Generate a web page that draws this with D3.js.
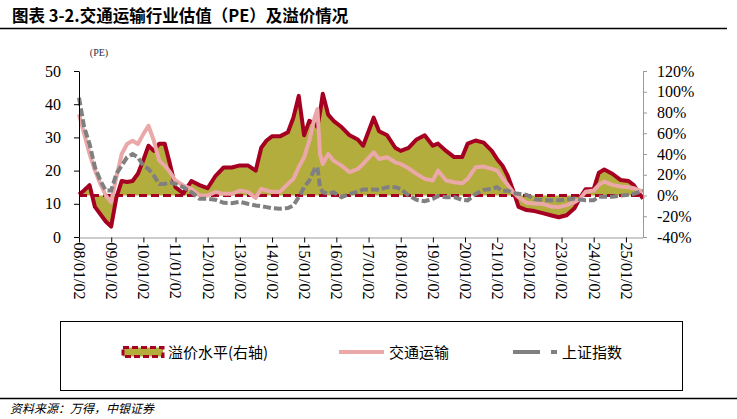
<!DOCTYPE html>
<html><head><meta charset="utf-8">
<script src="https://cdn.jsdelivr.net/npm/d3@7"></script>
<style>body{margin:0;background:#fff;} svg{display:block}</style>
</head><body>
<svg id="c" width="737" height="419"></svg>
<script>
const dates = ["2008-01-02","2008-03-01","2008-05-01","2008-07-01","2008-09-01","2008-11-01",
"2009-01-01","2009-03-01","2009-05-01","2009-07-01","2009-09-01","2009-11-01",
"2010-01-01","2010-03-01","2010-05-01","2010-07-01","2010-09-01","2010-11-01",
"2011-01-01","2011-04-01","2011-07-01","2011-10-01",
"2012-01-01","2012-04-01","2012-07-01","2012-10-01",
"2013-01-01","2013-04-01","2013-07-01","2013-09-01","2013-11-01",
"2014-01-01","2014-04-01","2014-07-01","2014-09-01","2014-11-01",
"2015-01-01","2015-03-01","2015-05-01","2015-06-01","2015-07-01","2015-08-01","2015-10-01","2015-12-01",
"2016-03-01","2016-06-01","2016-09-01","2016-11-01",
"2017-03-01","2017-05-01","2017-08-01","2017-11-01",
"2018-01-01","2018-04-01","2018-07-01","2018-10-01",
"2019-01-01","2019-03-01","2019-06-01","2019-09-01","2019-12-01",
"2020-02-01","2020-05-01","2020-08-01","2020-11-01",
"2021-01-01","2021-03-01","2021-05-01","2021-07-01","2021-09-01","2021-12-01",
"2022-03-01","2022-06-01","2022-09-01","2022-12-01",
"2023-03-01","2023-06-01","2023-08-01","2023-10-01",
"2024-01-01","2024-03-01","2024-05-01","2024-08-01","2024-11-01",
"2025-02-01","2025-04-01","2025-07-15"];

// 交通运输 PE (left axis)
const transportPE = [37,31,25,20,16,12.5,
10.5,18,25,28,29,28,
31,33.5,29,23,21.5,19.5,
17,15.5,14.5,12.5,
12.5,13.6,13,13,
14,13.6,11.8,14.5,14,
13.6,13.6,16,17.5,21,
24,29,36,38.5,25,22,25,23,
21.5,19.5,20.5,22,
25.5,23.5,24,22.5,
22,20.7,19,17.5,
17,20,17,16.5,16.2,
17.5,21,21.2,20.5,
20,17.7,15.7,13.5,12,10.3,
10.1,10,9.2,9,
9.6,10.5,11.5,13.6,
14,15.7,16.7,15.7,15.2,
15,14.7,13.6];

// 上证指数 PE (left axis)
const ssePE = [42,33,28,21,17,14,
14,19,21.5,24,25,24,
21.5,20.5,18.5,16,16,16.5,
16,15,13.5,11.5,
11.5,11.2,10.3,10.2,
10.6,10,9.5,9.3,9,
8.7,8.5,8.7,9.5,12,
15,17,20.5,21,15,13.5,13,13.5,
12,13,13.6,14.3,
14.3,14.2,15,15,
14.5,12.5,11.2,10.8,
11.5,12.3,12,12,11.2,
11,13,14.2,14.5,
15,13.8,14,13.2,13,12.7,
11.4,11.1,11.1,11.1,
11.3,11.6,11.3,11.1,
11.1,12.1,12.1,12.1,12.5,
12.7,13,14];

// 溢价水平 % (right axis)
const premiumPct = [1,5,10,-11,-18,-25,
-30,-2,14,13,14,21,
34,48,43,50,50,30,
8,2,14,10,
7,19,27,27,
29,29,24,46,53,
57,57,61,75,96,
58,72,69,66,80,98,78,72,
66,58,54,48,
75,62,58,46,
43,46,54,58,
48,50,43,37,37,
50,53,51,43,
35,29,19,5,-11,-14,
-15,-17,-19,-21,
-19,-12,-2,6,
6,22,25,21,15,
14,10,-3];

const leftTicks = [0,10,20,30,40,50];
const rightTicks = [-40,-20,0,20,40,60,80,100,120];
const tickYears = d3.range(2008,2026);

const RED="#a50021", OLIVE="#b3ad3e", PINK="#eaa8a8", GRAY="#808080";
const serif="'Liberation Serif','Times New Roman',serif";
const cjk="'Noto Sans CJK SC','Noto Sans',sans-serif";

const svg=d3.select("#c");
const parse=d3.timeParse("%Y-%m-%d");
const data=dates.map((d,i)=>({date:parse(d),t:transportPE[i],s:ssePE[i],p:premiumPct[i]}));

const x=d3.scaleTime().domain([new Date(2008,0,2),new Date(2025,6,15)]).range([79,643]);
const yL=d3.scaleLinear().domain([0,50]).range([237,71]);
const yR=d3.scaleLinear().domain([-40,120]).range([237,71]);

// title
svg.append("text").attr("x",12).attr("y",22).attr("font-family",cjk).attr("font-weight","bold")
  .attr("font-size",16.5).attr("fill","#000")
  .text("图表 3-2.交通运输行业估值（PE）及溢价情况");
svg.append("line").attr("x1",0).attr("x2",727).attr("y1",28.5).attr("y2",28.5).attr("stroke","#000").attr("stroke-width",1.5);

svg.append("text").attr("x",99).attr("y",56).attr("text-anchor","middle").attr("font-family",serif)
  .attr("font-size",10).attr("fill","#1f2d4a").text("(PE)");

// premium area
svg.append("path").datum(data)
  .attr("d",d3.area().x(d=>x(d.date)).y0(yR(0)).y1(d=>yR(d.p)))
  .attr("fill",OLIVE);
svg.append("path").datum(data)
  .attr("d",d3.line().x(d=>x(d.date)).y(d=>yR(d.p)))
  .attr("fill","none").attr("stroke",RED).attr("stroke-width",4).attr("stroke-linejoin","round");
svg.append("line").attr("x1",x(data[0].date)).attr("x2",x(data[data.length-1].date))
  .attr("y1",yR(0)).attr("y2",yR(0)).attr("stroke",RED).attr("stroke-width",3).attr("stroke-dasharray","8,4");

// transport
svg.append("path").datum(data)
  .attr("d",d3.line().x(d=>x(d.date)).y(d=>yL(d.t)))
  .attr("fill","none").attr("stroke",PINK).attr("stroke-width",4).attr("stroke-linejoin","round");
// SSE
svg.append("path").datum(data)
  .attr("d",d3.line().x(d=>x(d.date)).y(d=>yL(d.s)))
  .attr("fill","none").attr("stroke",GRAY).attr("stroke-width",4).attr("stroke-dasharray","8,3");

// axes
const gl=svg.append("g").attr("transform","translate(79,0)")
  .call(d3.axisLeft(yL).tickValues(leftTicks).tickSize(5).tickSizeOuter(0).tickPadding(13));
gl.selectAll("text").attr("font-family",serif).attr("font-size",16).attr("fill","#000");
gl.selectAll("line,path").attr("stroke","#000");

const gr=svg.append("g").attr("transform","translate(643,0)")
  .call(d3.axisRight(yR).tickValues(rightTicks).tickSize(4).tickSizeOuter(0).tickPadding(10).tickFormat(d=>d+"%"));
gr.selectAll("text").attr("font-family",serif).attr("font-size",16).attr("fill","#000");
gr.selectAll("line,path").attr("stroke","#999");

const gb=svg.append("g").attr("transform","translate(0,237.5)")
  .call(d3.axisBottom(x).tickValues(tickYears.map(y=>new Date(y,0,2))).tickFormat(d3.timeFormat("%y/%m/%d")).tickSize(5).tickSizeOuter(0));
gb.select("path").attr("stroke","#999");
gb.selectAll("line").attr("stroke","#000");
gb.selectAll("text").attr("font-family",serif).attr("font-size",16).attr("fill","#000")
  .attr("transform","rotate(90)").attr("x",5).attr("y",0).attr("dy","0.35em").attr("text-anchor","start");

// legend
svg.append("rect").attr("x",60.5).attr("y",321.5).attr("width",622).attr("height",69)
  .attr("fill","none").attr("stroke","#000").attr("stroke-width",1);
svg.append("rect").attr("x",123).attr("y",347.5).attr("width",40).attr("height",9)
  .attr("fill",OLIVE).attr("stroke",RED).attr("stroke-width",3).attr("stroke-dasharray","6,3");
svg.append("text").attr("x",168).attr("y",357.5).attr("font-family",cjk).attr("font-size",15).text("溢价水平(右轴)");
svg.append("line").attr("x1",339).attr("x2",384).attr("y1",352).attr("y2",352).attr("stroke",PINK).attr("stroke-width",4);
svg.append("text").attr("x",389).attr("y",357.5).attr("font-family",cjk).attr("font-size",15).text("交通运输");
svg.append("line").attr("x1",513).attr("x2",558).attr("y1",352).attr("y2",352).attr("stroke",GRAY).attr("stroke-width",4).attr("stroke-dasharray","27,11,6");
svg.append("text").attr("x",562).attr("y",357.5).attr("font-family",cjk).attr("font-size",15).text("上证指数");

// footer
svg.append("line").attr("x1",0).attr("x2",737).attr("y1",398.5).attr("y2",398.5).attr("stroke","#000").attr("stroke-width",1.5);
svg.append("text").attr("x",10).attr("y",413).attr("font-family",cjk).attr("font-size",12).attr("font-style","italic")
  .text("资料来源：万得，中银证券");
</script>
</body></html>
